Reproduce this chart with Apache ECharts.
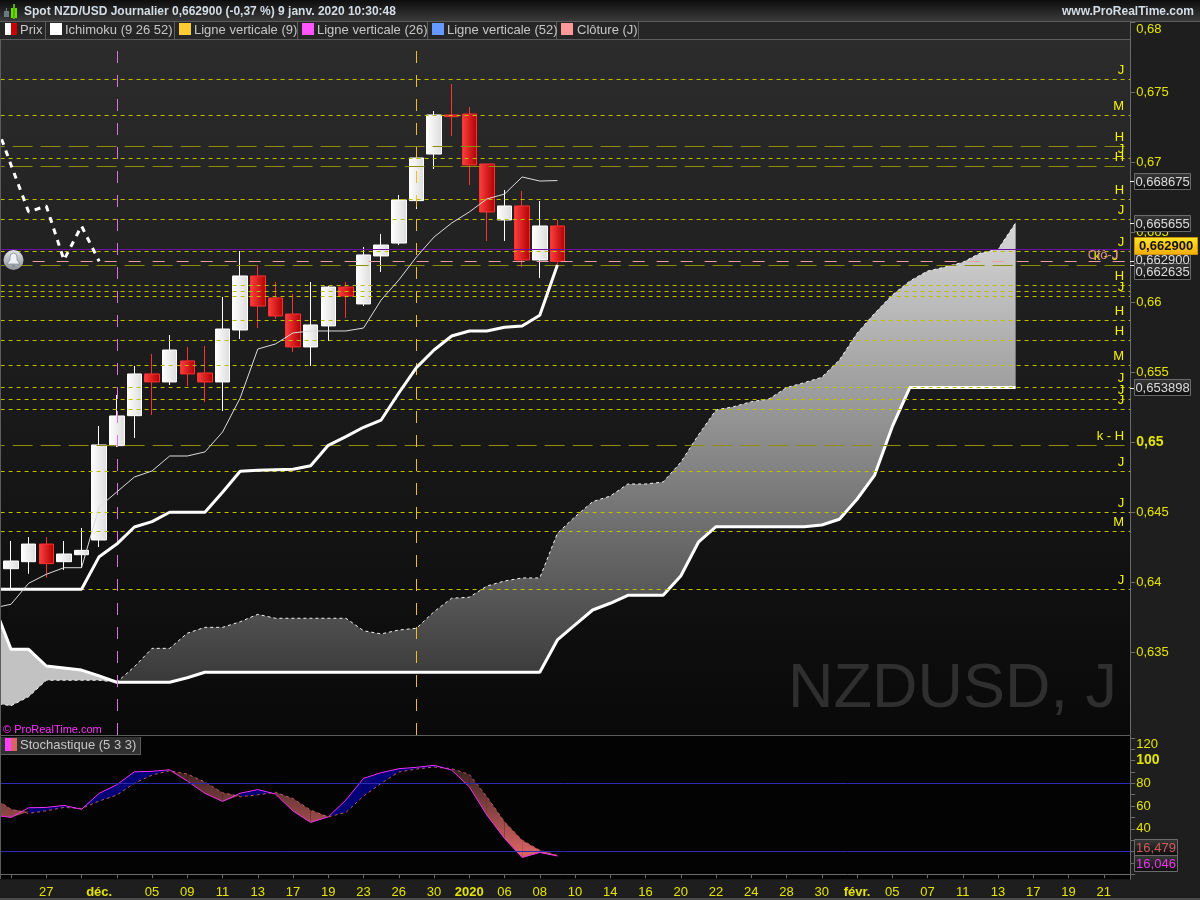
<!DOCTYPE html>
<html><head><meta charset="utf-8">
<style>html,body{margin:0;padding:0;background:#1e1e1e;overflow:hidden}#c{width:1200px;height:900px}</style>
<script src="https://cdn.jsdelivr.net/npm/echarts@6/dist/echarts.min.js"></script>
</head><body><div id="c"></div>
<script>
const categories=['22','25','26','27','28','29','déc.','03','04','05','06','09','10','11','12','13','16','17','18','19','20','23','24','26','27','30','31','2020','03','06','07','08','09','10','13','14','15','16','17','20','21','22','23','24','27','28','29','30','31','févr.','04','05','06','07','10','11','12','13','14','17','18','19','20','21','24'];
const shownDates=['27','déc.','05','09','11','13','17','19','23','26','30','2020','06','08','10','14','16','20','22','24','28','30','févr.','05','07','11','13','17','19','21'];
const candleOpen=[.64095,.64145,.64271,.64145,.64195,.643,.64974,.65188,.65486,.65429,.65579,.65493,.65429,.658,.66186,.66029,.65914,.65679,.65829,.66107,.65986,.66329,.66421,.66724,.67057,.67336,.67343,.66986,.66586,.66686,.663,.66543];
const candleClose=[.6415,.64271,.64131,.642,.64226,.64979,.65186,.65486,.65429,.65657,.65486,.65429,.65807,.66186,.65971,.659,.65679,.65836,.66107,.66043,.66336,.66407,.66729,.67029,.67336,.67324,.66979,.66643,.66686,.663,.66543,.6629];
const candleLow=[.63957,.64059,.64031,.64086,.641,.6425,.64964,.65029,.65193,.65407,.654,.65286,.65221,.65736,.65814,.65879,.65643,.65543,.65721,.65886,.65971,.66214,.66407,.66664,.6695,.67186,.66836,.66436,.66436,.6625,.66171,.66264];
const candleHigh=[.64293,.64321,.64321,.64293,.64386,.65114,.65336,.65543,.65629,.65764,.65679,.65686,.66036,.66364,.66264,.66143,.66057,.66143,.66114,.66143,.66393,.66486,.66764,.67107,.67364,.67557,.67393,.66986,.668,.66793,.66721,.66586];
const tenkan=[.63814,.63841,.63991,.64055,.64102,.64102,.64536,.64643,.6475,.64793,.649,.649,.64929,.65071,.65314,.65664,.657,.65779,.65793,.65793,.65793,.65814,.66014,.66157,.66321,.66464,.66564,.66643,.66736,.66771,.66893,.66864,.668675];
const kijun=[.63948,.63948,.63948,.63948,.63948,.63948,.64181,.64271,.64393,.64431,.64498,.64498,.64498,.64641,.64791,.64798,.64802,.64805,.64831,.64976,.65038,.65105,.65157,.6535,.65531,.65657,.65757,.65793,.65793,.65819,.65829,.65905,.662635];
const chikou=[.67324,.66979,.66643,.66686,.663,.66543,.6629];
const spanA=[.63136,.63116,.63181,.63298,.63298,.63298,.63298,.63284,.63395,.63526,.63526,.63634,.63676,.63676,.63716,.63769,.63741,.63741,.63741,.63741,.63741,.63652,.63629,.63657,.63669,.63788,.63884,.63891,.63971,.64007,.64029,.64029,.64348,.64466,.64574,.64614,.647,.647,.64714,.64855,.6505,.65229,.65252,.65288,.65307,.65388,.65424,.65462,.65586,.65776,.65919,.6605,.6615,.66221,.6625,.66284,.6635,.66376,.665655];
const spanB=[.63843,.63519,.63519,.634,.63386,.63371,.63329,.63284,.63284,.63284,.63284,.63316,.63355,.63355,.63355,.63355,.63355,.63355,.63355,.63355,.63355,.63355,.63355,.63355,.63355,.63355,.63355,.63355,.63355,.63355,.63355,.63355,.63586,.63693,.638,.63848,.63905,.63905,.63905,.64043,.64284,.64395,.64395,.64395,.64395,.64395,.64395,.64407,.64448,.64591,.64764,.65109,.653898,.653898,.653898,.653898,.653898,.653898,.653898];
const stochK=[52,50,58.5,58.8,60.6,57.1,71.2,78.8,90.2,90.6,92,82,71.2,64.1,71.3,74.5,70.6,55.6,45.6,50.5,65.3,84.4,89.4,92.9,94.1,95.9,91.7,77,52,31.5,14.7,19.1,16.046];
const stochD=[67.6,57.1,53.5,55.8,58.8,57.9,64.4,69.7,80,87.3,91.1,88.2,81.1,71.7,68.2,69.9,72.1,66.6,56.4,50.5,54.4,68.8,80,90,92.6,94.4,92.9,87.9,68.2,46.1,30,21.1,16.479];
const dashedLevels=[.67591,.67334,.67026,.66734,.66591,.66362,.66119,.66076,.66041,.65869,.65726,.65548,.65391,.65305,.65234,.64791,.64498,.64362,.63948];
const dashedLabels=['J','M','J','H','J','J','H','','J','H','H','M','J','J','J','J','J','M','J'];
const longLevels=[.67114,.66969,.66262,.64976];
const longLabels=['H','H','k - J','k - H'];
const priceTicks=[.635,.64,.645,.65,.655,.66,.665,.67,.675,.68];
const stochTicks=[0,10,20,30,40,50,60,70,80,90,100,110,120];
const stochLabels=[40,60,80,100,120];

const font='"Liberation Sans",Arial,sans-serif';
const yellow='#e4e400';
const bright='#f4f400';
const leftPad=-15.4, totalW=1145.6;
const candles=[['-','-','-','-']].concat(candleOpen.map((o,i)=>[o,candleClose[i],candleLow[i],candleHigh[i]]));
const wanted=new Set(); let walk=0;
categories.forEach((c,i)=>{ if(i>=3 && walk<shownDates.length && c===shownDates[walk] && (i===6 || i%2===1)){wanted.add(i);walk++;} });

function kumoItem(params,api){
  const pt=(i,a)=>api.coord([i,a[i]]);
  const lo=[],hi=[];
  for(let i=0;i<=7;i++) lo.push(pt(i,spanA));
  for(let i=7;i>=0;i--) lo.push(pt(i,spanB));
  for(let i=7;i<spanA.length;i++) hi.push(pt(i,spanA));
  for(let i=spanA.length-1;i>=7;i--) hi.push(pt(i,spanB));
  const y0=api.coord([0,.6655])[1], y1=api.coord([0,.633])[1];
  return {type:'group',children:[
    {type:'polygon',shape:{points:lo},style:{fill:'#c2c2c2'}},
    {type:'polygon',shape:{points:hi},style:{fill:{type:'linear',global:true,x:0,y:y0,x2:0,y2:y1,colorStops:[{offset:0,color:'#d6d6d6'},{offset:1,color:'#3a3a3a'}]}}}
  ]};
}
function stochItem(params,api){
  const i=params.dataIndex;
  if(i>=stochK.length-1) return null;
  const kA=stochK[i],kB=stochK[i+1],dA=stochD[i],dB=stochD[i+1];
  const y0=api.coord([0,96])[1], y1=api.coord([0,20])[1];
  const warm={type:'linear',global:true,x:0,y:y0,x2:0,y2:y1,colorStops:[{offset:0,color:'#34201f'},{offset:1,color:'#d66262'}]};
  const fillFor=up=>up?'#000078':warm;
  const p=(x,v)=>api.coord([x,v]);
  const dA0=kA-dA,dB0=kB-dB;
  if(dA0*dB0>=0){
    return {type:'polygon',shape:{points:[p(i,kA),p(i+1,kB),p(i+1,dB),p(i,dA)]},style:{fill:fillFor(dA0+dB0>0)}};
  }
  const t=dA0/(dA0-dB0), vx=kA+(kB-kA)*t;
  return {type:'group',children:[
    {type:'polygon',shape:{points:[p(i,kA),p(i+t,vx),p(i,dA)]},style:{fill:fillFor(dA0>0)}},
    {type:'polygon',shape:{points:[p(i+t,vx),p(i+1,kB),p(i+1,dB)]},style:{fill:fillFor(dB0>0)}}
  ]};
}

const markLevels=[];
dashedLevels.forEach((v,i)=>markLevels.push({yAxis:v,lineStyle:{color:'#c0c000',width:1,type:[4,4]},label:{show:!!dashedLabels[i],formatter:dashedLabels[i],color:bright,position:'insideEndTop',distance:[6,2],fontSize:13,fontFamily:font}}));
longLevels.forEach((v,i)=>markLevels.push({yAxis:v,lineStyle:{color:'#8e8e06',width:1,type:[20,8]},label:{show:true,formatter:longLabels[i],color:bright,position:'insideEndTop',distance:[longLabels[i]==='k - J'?12:6,2],fontSize:13,fontFamily:font}}));
markLevels.push({yAxis:.6629,lineStyle:{color:'#f0a0a4',width:1,type:[12,12]},label:{show:true,formatter:'Clô-J',color:'#d98a8e',position:'insideEndTop',distance:[12,-1],fontSize:13,fontFamily:font}});
markLevels.push({yAxis:.66374,lineStyle:{color:'#6a12a8',width:1,type:'solid'},label:{show:false}});
markLevels.push({xAxis:7,lineStyle:{color:'#e46ee4',width:1,type:[12,12]},label:{show:false}});
markLevels.push({xAxis:24,lineStyle:{color:'#f6bb22',width:1,type:[12,12]},label:{show:false}});

function tag(x,y,w,h,txt,txtColor,grad,bold,border){
  return {type:'group',z:120,children:[
    {type:'rect',z:120,shape:{x:x+.5,y:y+.5,width:w,height:h},style:{fill:{type:'linear',x:0,y:0,x2:0,y2:1,colorStops:grad},stroke:border,lineWidth:1}},
    {type:'text',z:121,style:{x:x+w/2+.5,y:y+h/2+1,text:txt,fill:txtColor,font:(bold?'bold ':'')+'13px '+font,align:'center',verticalAlign:'middle'}}
  ]};
}
const darkTag=[{offset:0,color:'#3a3a3a'},{offset:1,color:'#0c0c0c'}];
const goldTag=[{offset:0,color:'#ffe72a'},{offset:1,color:'#f4aa05'}];
function legendText(x,y,t){return {type:'text',z:112,style:{x:x,y:y,text:t,fill:'#c6c6c6',font:'13px '+font,verticalAlign:'middle'}};}
function r(x,y,w,h,fill,z){return {type:'rect',z:z||110,shape:{x:x,y:y,width:w,height:h},style:{fill:fill}};}
const grey='#5c5c5c';

const graphicEls=[
  r(0,0,1200,21,{type:'linear',x:0,y:0,x2:0,y2:1,colorStops:[{offset:0,color:'#0d0d0d'},{offset:1,color:'#3a3a3a'}]}),
  r(0,21,1130,18,'#262626'), r(0,21,1200,1,grey), r(0,39,1130,1,grey),
  r(4,11,5,6,'#6d7a84',111), r(6,8,1,3,'#6d7a84',111),
  r(11,8,6,10,'#66e000',111), r(13,4,2,15,'#4fb000',111),
  {type:'text',z:111,style:{x:24,y:12,text:'Spot NZD/USD Journalier 0,662900 (-0,37 %) 9 janv. 2020 10:30:48',fill:'#d4dde6',font:'bold 12px '+font,verticalAlign:'middle'}},
  {type:'text',z:111,style:{x:1194,y:12,text:'www.ProRealTime.com',fill:'#d4dde6',font:'bold 12px '+font,align:'right',verticalAlign:'middle'}},
  r(5,23,6,12,'#ffffff',111), r(11,23,6,12,'#cc0000',111), legendText(20,30,'Prix'), r(45,22,1,17,grey,111),
  r(50,23,12,12,'#ffffff',111), legendText(65,30,'Ichimoku (9 26 52)'), r(174,22,1,17,grey,111),
  r(179,23,12,12,'#ffcc33',111), legendText(194,30,'Ligne verticale (9)'), r(297,22,1,17,grey,111),
  r(302,23,12,12,'#ff55ff',111), legendText(317,30,'Ligne verticale (26)'), r(427,22,1,17,grey,111),
  r(432,23,12,12,'#6699ff',111), legendText(447,30,'Ligne verticale (52)'), r(556,22,1,17,grey,111),
  r(561,23,12,12,'#ff9999',111), legendText(577,30,'Clôture (J)'), r(638,22,1,17,grey,111),
  r(0,735,1130,1,grey), r(0,39,1,840,grey), r(1,737,139,17,'#303030'), r(140,737,1,18,grey), r(1,754,140,1,grey),
  r(5,738,6,13,'#ff40ff',111), r(11,738,6,13,'#d86464',111),
  legendText(20,745,'Stochastique (5 3 3)'),
  {type:'text',z:105,style:{x:788,y:690,text:'NZDUSD, J',fill:'#2f2f2f',font:'63px '+font,verticalAlign:'middle'}},
  {type:'text',z:105,style:{x:3,y:730,text:'© ProRealTime.com',fill:'#ff30ff',font:'11px '+font,verticalAlign:'middle'}},
  {type:'circle',z:106,shape:{cx:13.5,cy:260,r:10},style:{fill:{type:'linear',x:0,y:0,x2:0,y2:1,colorStops:[{offset:0,color:'#e2e6ea'},{offset:1,color:'#8d9297'}]}}},
  {type:'polygon',z:107,shape:{points:[[13.5,253],[16,254],[17,257],[17,260],[20,264],[7,264],[10,260],[10,257],[11,254]]},style:{fill:'#eef2f5',stroke:'#8a8f95',lineWidth:.8}},
  r(12,265,3,2,'#8a8f95',107),
  r(1130,181,4,1,'#eee',119), r(1130,223,4,1,'#eee',119), r(1130,261,4,1,'#eee',119), r(1130,265,4,1,'#eee',119), r(1130,388,4,1,'#eee',119),
  tag(1134,173,56,16,'0,668675','#dcdcdc',darkTag,false,'#6a6a6a'),
  tag(1134,215,56,16,'0,665655','#dcdcdc',darkTag,false,'#6a6a6a'),
  tag(1134,253,56,12,'0,662900','#dcdcdc',darkTag,false,'#6a6a6a'),
  tag(1134,263,56,16,'0,662635','#dcdcdc',darkTag,false,'#6a6a6a'),
  tag(1134,379,56,16,'0,653898','#dcdcdc',darkTag,false,'#6a6a6a'),
  tag(1134,237,63,17,'0,662900','#111',goldTag,true,'#c89000'),
  tag(1134,839,43,16,'16,479','#d05c5c',darkTag,false,'#6a6a6a'),
  tag(1134,855,43,16,'16,046','#e838e8',darkTag,false,'#6a6a6a'),
  r(0,898,1200,2,'#4a4a4a',119)
];

const option={
  animation:false,
  backgroundColor:'#1e1e1e',
  textStyle:{fontFamily:font},
  graphic:{elements:graphicEls},
  grid:[
    {left:leftPad,width:totalW,top:22,height:713,show:true,borderWidth:0,outerBoundsMode:'none',containLabel:false,
     backgroundColor:{type:'linear',x:0,y:0,x2:0,y2:1,colorStops:[{offset:0,color:'#2d2d2d'},{offset:1,color:'#090909'}]}},
    {left:leftPad,width:totalW,top:736,height:143.3,show:true,borderWidth:0,outerBoundsMode:'none',containLabel:false,backgroundColor:'#030303'}
  ],
  xAxis:[
    {gridIndex:0,type:'category',data:categories,axisLine:{show:false},axisTick:{show:false},axisLabel:{show:false},splitLine:{show:false}},
    {gridIndex:1,type:'category',data:categories,
     axisLine:{show:true,lineStyle:{color:'#6a6a6a'}},
     axisTick:{show:true,alignWithLabel:true,length:4,lineStyle:{color:'#6a6a6a'},interval:(i)=>i%2===1},
     axisLabel:{show:true,margin:7,color:yellow,fontSize:13,fontFamily:font,interval:(i)=>wanted.has(i),
       formatter:(v)=>/[^0-9]|2020/.test(v)?'{b|'+v+'}':v,
       rich:{b:{fontWeight:'bold',color:yellow,fontSize:13,fontFamily:font}}},
     splitLine:{show:false}}
  ],
  yAxis:[
    {gridIndex:0,type:'value',position:'right',min:.629071,max:.68,
     axisLine:{show:true,lineStyle:{color:'#6a6a6a'}},
     axisTick:{show:true,length:5,lineStyle:{color:'#6a6a6a'},customValues:priceTicks},
     axisLabel:{show:true,margin:6,color:yellow,fontSize:13,fontFamily:font,customValues:priceTicks,
       formatter:(v)=>{const s=String(+v.toFixed(3)).replace('.',',');return s==='0,65'?'{b|'+s+'}':s==='0,68'?'{t|'+s+'}':s;},
       rich:{b:{fontWeight:'bold',color:yellow,fontSize:14,fontFamily:font},t:{color:yellow,fontSize:13,fontFamily:font,padding:[14,0,0,0]}}},
     splitLine:{show:false}},
    {gridIndex:1,type:'value',position:'right',min:-4.5,max:121.7,
     axisLine:{show:true,lineStyle:{color:'#6a6a6a'}},
     axisTick:{show:true,length:5,lineStyle:{color:'#6a6a6a'},customValues:stochTicks},
     axisLabel:{show:true,margin:6,color:yellow,fontSize:13,fontFamily:font,customValues:stochLabels,
       formatter:(v)=>v===100?'{b|100}':v===120?'{t|120}':String(v),
       rich:{b:{fontWeight:'bold',color:yellow,fontSize:14,fontFamily:font},t:{color:yellow,fontSize:13,fontFamily:font,padding:[12,0,0,0]}}},
     splitLine:{show:false}}
  ],
  series:[
    {name:'Kumo',type:'custom',xAxisIndex:0,yAxisIndex:0,z:2,silent:true,clip:true,renderItem:kumoItem,data:[[0,.65]],encode:{x:0,y:1}},
    {name:'Senkou B',type:'line',xAxisIndex:0,yAxisIndex:0,z:3,data:spanB,showSymbol:false,lineStyle:{color:'#fff',width:3},silent:true},
    {name:'Senkou A',type:'line',xAxisIndex:0,yAxisIndex:0,z:3,data:spanA,showSymbol:false,lineStyle:{color:'#f4f4f4',width:1,type:[3,3]},silent:true},
    {name:'Prix',type:'candlestick',xAxisIndex:0,yAxisIndex:0,z:4,barWidth:15,data:candles,
      itemStyle:{color:{type:'linear',x:0,y:0,x2:1,y2:0,colorStops:[{offset:0,color:'#ffffff'},{offset:1,color:'#dcdcdc'}]},
        color0:{type:'linear',x:0,y:0,x2:1,y2:0,colorStops:[{offset:0,color:'#ff4040'},{offset:1,color:'#b00000'}]},
        borderColor:'#ffffff',borderColor0:'#ff3030',borderWidth:1}},
    {name:'Kijun',type:'line',xAxisIndex:0,yAxisIndex:0,z:5,data:kijun,showSymbol:false,lineStyle:{color:'#fff',width:3},silent:true},
    {name:'Tenkan',type:'line',xAxisIndex:0,yAxisIndex:0,z:5,data:tenkan,showSymbol:false,lineStyle:{color:'#dcdcdc',width:1},silent:true},
    {name:'Chikou',type:'line',xAxisIndex:0,yAxisIndex:0,z:5,data:chikou,showSymbol:false,lineStyle:{color:'#fff',width:3,type:[6,6]},silent:true},
    {name:'Niveaux',type:'line',xAxisIndex:0,yAxisIndex:0,z:6,data:[],silent:true,
      markLine:{silent:true,symbol:['none','none'],animation:false,precision:6,data:markLevels}},
    {name:'StochFill',type:'custom',xAxisIndex:1,yAxisIndex:1,z:2,silent:true,renderItem:stochItem,data:stochK.map((v,i)=>[i,v]),encode:{x:0,y:1}},
    {name:'%D',type:'line',xAxisIndex:1,yAxisIndex:1,z:3,data:stochD,showSymbol:false,lineStyle:{color:'#c25a5a',width:1,type:[3,3]},silent:true},
    {name:'%K',type:'line',xAxisIndex:1,yAxisIndex:1,z:4,data:stochK,showSymbol:false,lineStyle:{color:'#f030f0',width:1},silent:true,
      markLine:{silent:true,symbol:['none','none'],animation:false,label:{show:false},lineStyle:{color:'#2b2bb4',width:1,type:'solid'},data:[{yAxis:80},{yAxis:20}]}}
  ]
};
const chart=echarts.init(document.getElementById('c'),null,{renderer:'canvas',width:1200,height:900});
chart.setOption(option);
</script></body></html>
